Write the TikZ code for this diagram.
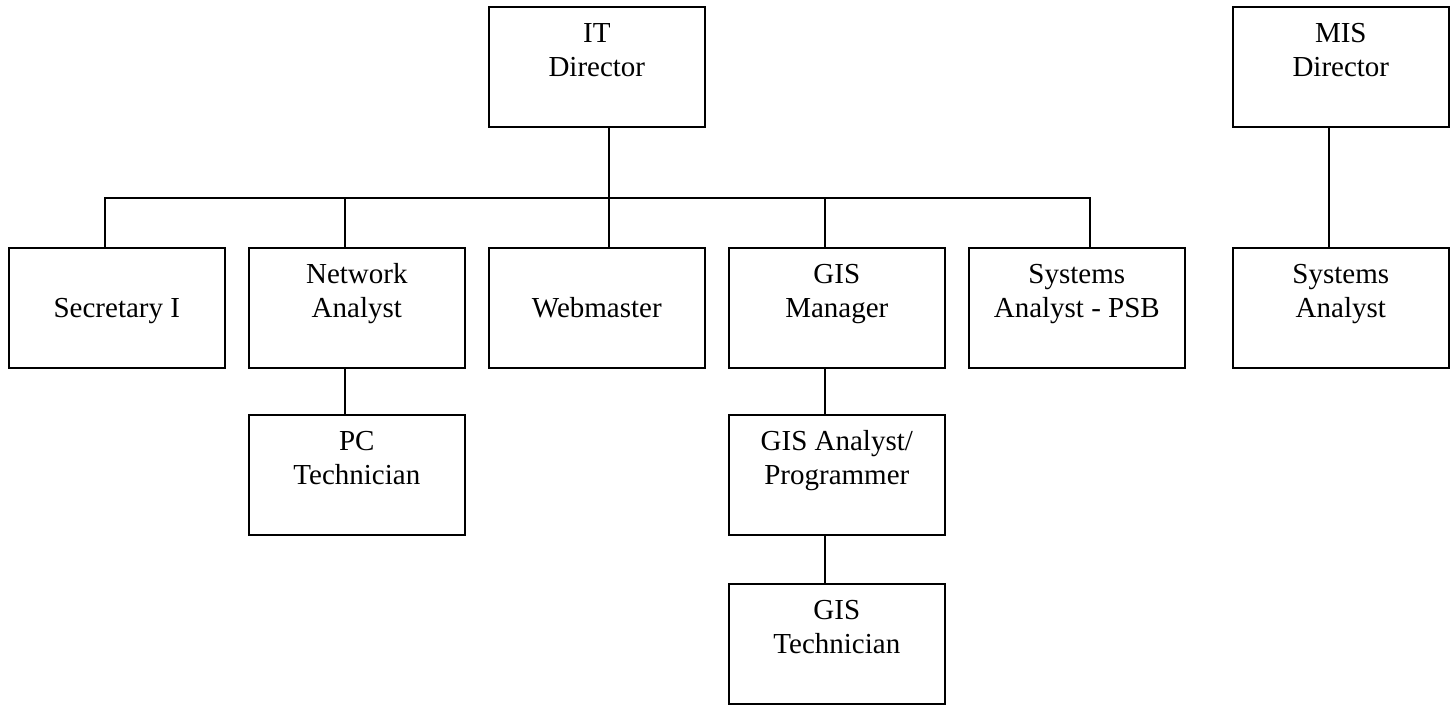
\documentclass[tikz,border=0pt]{standalone}
\usepackage{fontspec}
\setmainfont{Liberation Serif}
\usetikzlibrary{calc}

\tikzset{
    box/.style={draw, line width=1.6pt, minimum width=216pt, minimum height=120pt,
        inner sep=0pt, align=center, anchor=north west, text height=70pt, text depth=50pt,
        font=\fontsize{29}{34.5}\selectfont},
    link/.style={line width=1.6pt}
}

\begin{document}
\begin{tikzpicture}[x=1pt, y=1pt]
    \useasboundingbox (0, 0) rectangle (1456, -704);

    \node[box] (itdir) at (488, -6) {IT\\Director};
    \node[box] (misdir) at (1232, -6) {MIS\\Director};

    \node[box] (sec) at (8, -247) {Secretary I};
    \node[box] (netan) at (248, -247) {Network\\Analyst};
    \node[box] (web) at (488, -247) {Webmaster};
    \node[box] (gisman) at (728, -247) {GIS\\Manager};
    \node[box] (psb) at (968, -247) {Systems\\Analyst - PSB};
    \node[box] (sysan) at (1232, -247) {Systems\\Analyst};

    \node[box] (pctech) at (248, -414) {PC\\Technician};
    \node[box] (gisan) at (728, -414) {GIS Analyst/\\Programmer};
    \node[box] (gistech) at (728, -583) {GIS\\Technician};

    \coordinate (bar) at (600, -198);

    \draw[link] ([xshift=12pt]itdir.south) -- ([xshift=12pt]web.north);
    \draw[link] ([xshift=-12pt]sec.north) |- (bar) -| ([xshift=13pt]psb.north);
    \draw[link] ([xshift=-12pt]netan.north) -- ([xshift=-12pt]netan.north |- bar);
    \draw[link] ([xshift=-12pt]gisman.north) -- ([xshift=-12pt]gisman.north |- bar);
    \draw[link] ([xshift=-12pt]misdir.south) -- ([xshift=-12pt]sysan.north);

    \draw[link] ([xshift=-12pt]netan.south) -- ([xshift=-12pt]pctech.north);
    \draw[link] ([xshift=-12pt]gisman.south) -- ([xshift=-12pt]gisan.north);
    \draw[link] ([xshift=-12pt]gisan.south) -- ([xshift=-12pt]gistech.north);

\end{tikzpicture}
\end{document}
